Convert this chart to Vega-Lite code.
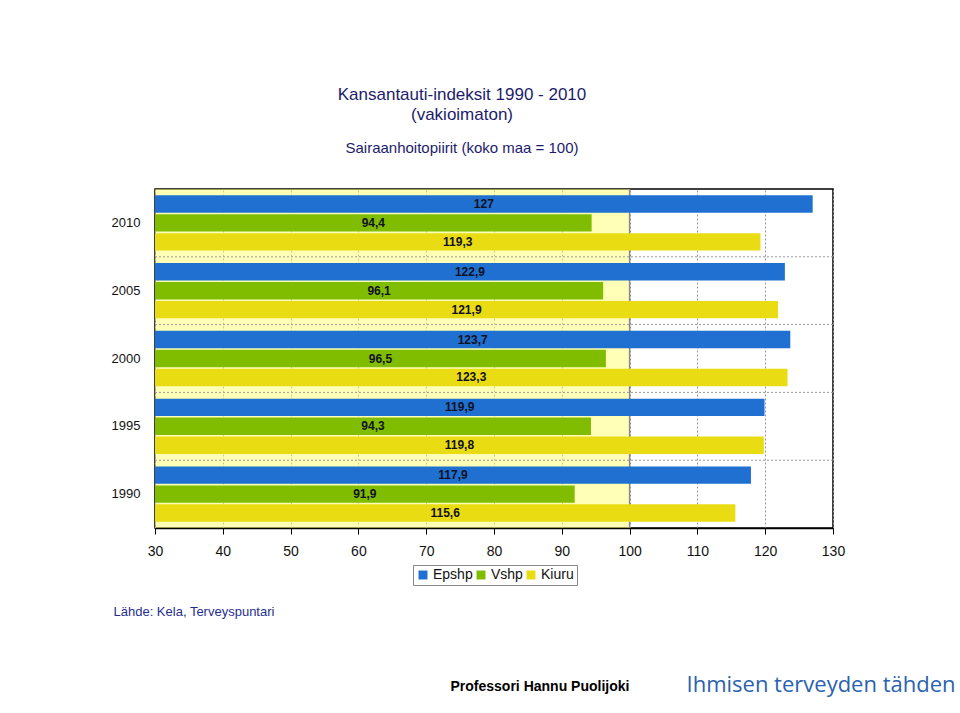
{
  "$schema": "https://vega.github.io/schema/vega-lite/v6.json",
  "width": 678,
  "height": 339,
  "autosize": {"type": "none"},
  "padding": {"left": 155, "top": 189, "right": 127, "bottom": 185},
  "background": "white",
  "config": {
    "font": "Liberation Sans",
    "locale": {"number": {"decimal": ",", "thousands": " ", "grouping": [3], "currency": ["", " €"]}},
    "view": {"stroke": "#000", "strokeWidth": 1.5}
  },
  "title": {
    "text": ["Kansantauti-indeksit 1990 - 2010", "(vakioimaton)"],
    "subtitle": "Sairaanhoitopiirit (koko maa = 100)",
    "fontSize": 17,
    "fontWeight": "normal",
    "font": "Liberation Sans",
    "color": "#1c1c6c",
    "lineHeight": 20,
    "subtitleFont": "Liberation Sans",
    "subtitleFontSize": 15,
    "subtitleColor": "#1c1c6c",
    "subtitlePadding": 17,
    "offset": 31,
    "anchor": "middle",
    "dx": -32
  },
  "datasets": {
    "indeksit": [
      {"vuosi": "2010", "piiri": "Epshp", "indeksi": 127},
      {"vuosi": "2010", "piiri": "Vshp", "indeksi": 94.4},
      {"vuosi": "2010", "piiri": "Kiuru", "indeksi": 119.3},
      {"vuosi": "2005", "piiri": "Epshp", "indeksi": 122.9},
      {"vuosi": "2005", "piiri": "Vshp", "indeksi": 96.1},
      {"vuosi": "2005", "piiri": "Kiuru", "indeksi": 121.9},
      {"vuosi": "2000", "piiri": "Epshp", "indeksi": 123.7},
      {"vuosi": "2000", "piiri": "Vshp", "indeksi": 96.5},
      {"vuosi": "2000", "piiri": "Kiuru", "indeksi": 123.3},
      {"vuosi": "1995", "piiri": "Epshp", "indeksi": 119.9},
      {"vuosi": "1995", "piiri": "Vshp", "indeksi": 94.3},
      {"vuosi": "1995", "piiri": "Kiuru", "indeksi": 119.8},
      {"vuosi": "1990", "piiri": "Epshp", "indeksi": 117.9},
      {"vuosi": "1990", "piiri": "Vshp", "indeksi": 91.9},
      {"vuosi": "1990", "piiri": "Kiuru", "indeksi": 115.6}
    ]
  },
  "resolve": {"scale": {"x": "independent", "y": "independent"}},
  "layer": [
    {
      "data": {"values": [{}]},
      "mark": {"type": "rect", "color": "#ffff71", "opacity": 0.5},
      "encoding": {
        "x": {"datum": 30, "type": "quantitative", "scale": {"domain": [30, 130], "zero": false, "nice": false}, "axis": null},
        "x2": {"datum": 100}
      }
    },
    {
      "data": {"values": [{"vuosi": "2005"}, {"vuosi": "2000"}, {"vuosi": "1995"}, {"vuosi": "1990"}]},
      "mark": {"type": "rule", "color": "#999999", "strokeDash": [2, 2], "strokeWidth": 1},
      "encoding": {
        "y": {
          "field": "vuosi",
          "type": "nominal",
          "bandPosition": 0,
          "scale": {"domain": ["2010", "2005", "2000", "1995", "1990"], "paddingInner": 0, "paddingOuter": 0},
          "axis": {
            "orient": "right",
            "labels": false,
            "ticks": false,
            "domain": false,
            "grid": false,
            "title": "Ihmisen terveyden tähden",
            "titleAngle": 0,
            "titleX": -147,
            "titleY": 502,
            "titleAlign": "left",
            "titleBaseline": "alphabetic",
            "titleFont": "Open Sans",
            "titleFontSize": 22,
            "titleFontWeight": "normal",
            "titleColor": "#2a62b0"
          }
        }
      }
    },
    {
      "data": {"values": [{}]},
      "mark": {"type": "rule", "color": "#8a8a8a", "strokeWidth": 1.5},
      "encoding": {
        "x": {"datum": 100, "type": "quantitative", "scale": {"domain": [30, 130], "zero": false, "nice": false}, "axis": null}
      }
    },
    {
      "data": {"name": "indeksit"},
      "mark": {"type": "bar"},
      "encoding": {
        "x": {
          "field": "indeksi",
          "type": "quantitative",
          "scale": {"domain": [30, 130], "zero": false, "nice": false},
          "axis": {
            "values": [30, 40, 50, 60, 70, 80, 90, 100, 110, 120, 130],
            "labelFlush": false,
            "labelFontSize": 14,
            "labelColor": "#111111",
            "labelPadding": 10,
            "tickSize": 6,
            "tickColor": "#000000",
            "domainColor": "#000000",
            "domainWidth": 1.5,
            "grid": true,
            "gridColor": "#999999",
            "gridDash": [2, 2],
            "title": "Lähde: Kela, Terveyspuntari",
            "titleAnchor": "start",
            "titleAlign": "left",
            "titleBaseline": "alphabetic",
            "titleX": -42,
            "titleY": 87,
            "titleFont": "Liberation Sans",
            "titleFontSize": 13,
            "titleFontWeight": "normal",
            "titleColor": "#1f2f8f"
          }
        },
        "x2": {"datum": 30},
        "y": {
          "field": "vuosi",
          "type": "nominal",
          "scale": {"domain": ["2010", "2005", "2000", "1995", "1990"], "paddingInner": 0, "paddingOuter": 0},
          "axis": {
            "ticks": false,
            "domain": false,
            "grid": false,
            "labelFontSize": 13,
            "labelColor": "#111111",
            "labelPadding": 15,
            "title": "Professori Hannu Puolijoki",
            "titleAngle": 0,
            "titleX": 295,
            "titleY": 501,
            "titleAlign": "left",
            "titleBaseline": "alphabetic",
            "titleFontSize": 14,
            "titleFontWeight": "bold",
            "titleColor": "#000000"
          }
        },
        "yOffset": {
          "field": "piiri",
          "type": "nominal",
          "scale": {"domain": ["Epshp", "Vshp", "Kiuru"], "paddingInner": 0.08, "paddingOuter": 0.33}
        },
        "color": {
          "field": "piiri",
          "type": "nominal",
          "scale": {"domain": ["Epshp", "Vshp", "Kiuru"], "range": ["#1f70d0", "#80bc00", "#e9dc12"]},
          "legend": {
            "orient": "none",
            "legendX": 258,
            "legendY": 376,
            "direction": "horizontal",
            "title": null,
            "strokeColor": "#888888",
            "padding": 3,
            "symbolType": "square",
            "symbolSize": 80,
            "symbolStrokeWidth": 0,
            "labelFontSize": 14,
            "labelColor": "#111111",
            "labelOffset": 3,
            "columnPadding": 1
          }
        }
      }
    },
    {
      "data": {"name": "indeksit"},
      "mark": {"type": "text", "fontSize": 12, "fontWeight": "bold", "color": "#111122", "baseline": "middle", "align": "center"},
      "encoding": {
        "x": {"field": "indeksi", "type": "quantitative", "scale": {"domain": [30, 130], "range": [0, 339], "zero": false, "nice": false}, "axis": null},
        "y": {
          "field": "vuosi",
          "type": "nominal",
          "scale": {"domain": ["2010", "2005", "2000", "1995", "1990"], "paddingInner": 0, "paddingOuter": 0},
          "axis": null
        },
        "yOffset": {
          "field": "piiri",
          "type": "nominal",
          "scale": {"domain": ["Epshp", "Vshp", "Kiuru"], "paddingInner": 0.08, "paddingOuter": 0.33}
        },
        "text": {"field": "indeksi", "type": "quantitative", "format": ".1~f"}
      }
    }
  ]
}
